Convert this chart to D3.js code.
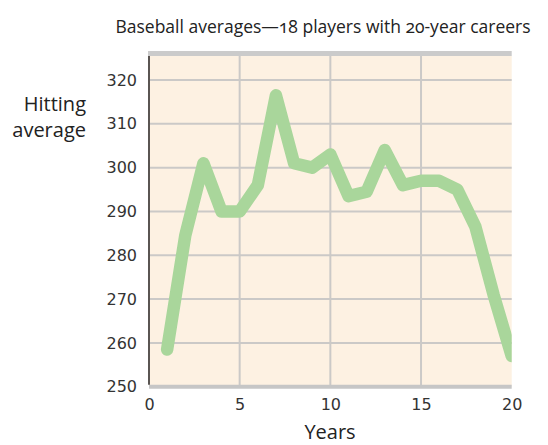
<!DOCTYPE html>
<html>
<head>
<meta charset="utf-8">
<script src="https://cdn.jsdelivr.net/npm/d3@7"></script>
<style>
  html, body { margin: 0; padding: 0; background: #fff; }
  svg { display: block; }
</style>
</head>
<body>
<svg id="chart" width="548" height="445"></svg>
<script>
// ---- data ----
const years = [1, 2, 3, 4, 5, 6, 7, 8, 9, 10, 11, 12, 13, 14, 15, 16, 17, 18, 19, 20];
const averages = [258.5, 284.5, 301, 290, 290, 296, 316.5, 301, 300, 303, 293.5, 294.5, 304, 296, 297, 297, 295, 286.5, 271, 257];
const xTicks = [0, 5, 10, 15, 20];
const yTicks = [250, 260, 270, 280, 290, 300, 310, 320];
const titleText = "Baseball averages\u201418 players with 20-year careers";
const yLabelLines = ["Hitting", "average"];
const xLabelText = "Years";

(function () {
// ---- layout ----
const svg = d3.select("#chart");
const pLeft = 149, pRight = 511.7, pBottom = 386.7, pTop = 56;
const x = d3.scaleLinear().domain([0, 20]).range([pLeft, pRight]);
const y = d3.scaleLinear().domain([250, 320]).range([pBottom, 80]);

const humanist = "'Open Sans', Lato, sans-serif";
const tickFont = "'DejaVu Sans', sans-serif";

// background
svg.append("rect").attr("x", pLeft).attr("y", pTop)
  .attr("width", pRight - pLeft).attr("height", pBottom - pTop)
  .attr("fill", "#fdf1e2");

// grid
const grid = svg.append("g").attr("stroke", "#cbc9c7").attr("stroke-width", 2);
grid.selectAll("line.h").data(yTicks.filter(d => d > 250)).join("line")
  .attr("class", "h")
  .attr("x1", pLeft).attr("x2", pRight)
  .attr("y1", d => y(d)).attr("y2", d => y(d));
grid.selectAll("line.v").data(xTicks.filter(d => d > 0 && d < 20)).join("line")
  .attr("class", "v")
  .attr("x1", d => x(d)).attr("x2", d => x(d))
  .attr("y1", pTop).attr("y2", pBottom);

// top bar
svg.append("rect").attr("x", pLeft - 1).attr("y", pTop - 5)
  .attr("width", pRight - pLeft + 1).attr("height", 5).attr("fill", "#cbcbcb");

// clip
svg.append("clipPath").attr("id", "plotclip").append("rect")
  .attr("x", pLeft).attr("y", pTop).attr("width", pRight - pLeft).attr("height", pBottom - pTop);

// line
const line = d3.line().x((d, i) => x(years[i])).y(d => y(d));
svg.append("path").datum(averages)
  .attr("clip-path", "url(#plotclip)")
  .attr("fill", "none")
  .attr("stroke", "#a9d69b")
  .attr("stroke-width", 12.5)
  .attr("stroke-linejoin", "round")
  .attr("stroke-linecap", "round")
  .attr("d", line);

// bottom axis bar
svg.append("line").attr("x1", pLeft).attr("x2", pRight)
  .attr("y1", pBottom).attr("y2", pBottom)
  .attr("stroke", "#c6c6c6").attr("stroke-width", 4);

// left axis line
svg.append("line").attr("x1", pLeft).attr("x2", pLeft)
  .attr("y1", pTop).attr("y2", pBottom - 2)
  .attr("stroke", "#5a5552").attr("stroke-width", 2);

// y axis
const yAxis = d3.axisLeft(y).tickValues(yTicks).tickSize(0).tickPadding(12).tickFormat(d3.format("d"));
const gy = svg.append("g").attr("transform", `translate(${pLeft},0)`).call(yAxis);
gy.select(".domain").remove();
gy.selectAll("text").attr("font-family", tickFont).attr("font-size", 16).attr("fill", "#333");

// x axis
const xAxis = d3.axisBottom(x).tickValues(xTicks).tickSize(0).tickPadding(12).tickFormat(d3.format("d"));
const gx = svg.append("g").attr("transform", `translate(0,${pBottom})`).call(xAxis);
gx.select(".domain").remove();
gx.selectAll("text").attr("font-family", tickFont).attr("font-size", 16).attr("fill", "#333");

// title
svg.append("text").attr("x", 323).attr("y", 33)
  .attr("text-anchor", "middle")
  .attr("font-family", humanist).attr("font-size", 17.5)
  .style("font-variant-numeric", "oldstyle-nums")
  .attr("fill", "#222").text(titleText);

// y label
svg.append("text").attr("text-anchor", "end")
  .attr("font-family", humanist).attr("font-size", 20).attr("fill", "#222")
  .selectAll("tspan").data(yLabelLines).join("tspan")
  .attr("x", 86).attr("y", (d, i) => 111 + i * 26).text(d => d);

// x label
svg.append("text").attr("x", 330).attr("y", 439)
  .attr("text-anchor", "middle")
  .attr("font-family", humanist).attr("font-size", 20).attr("fill", "#222")
  .text(xLabelText);
})();
</script>
</body>
</html>
